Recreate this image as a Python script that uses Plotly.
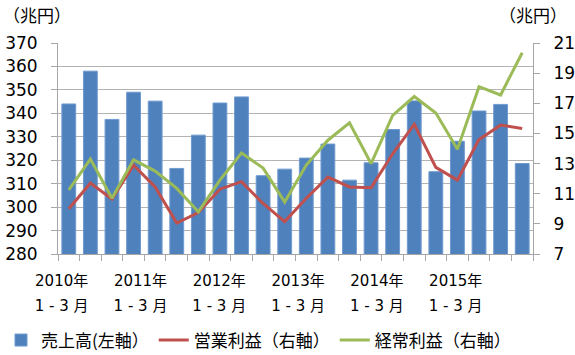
import plotly.graph_objects as go

quarters = ["2010Q1","2010Q2","2010Q3","2010Q4","2011Q1","2011Q2","2011Q3","2011Q4",
            "2012Q1","2012Q2","2012Q3","2012Q4","2013Q1","2013Q2","2013Q3","2013Q4",
            "2014Q1","2014Q2","2014Q3","2014Q4","2015Q1","2015Q2"]
sales = [344.0, 358.0, 337.4, 349.0, 345.2, 316.5, 330.7, 344.4, 347.0, 313.4, 316.2,
         320.9, 326.9, 311.5, 318.9, 333.1, 345.3, 315.1, 328.1, 341.0, 343.8, 318.6]
operating = [10.0, 11.7, 10.65, 12.9, 11.45, 9.05, 9.75, 11.3, 11.8, 10.35, 9.15,
             10.7, 12.1, 11.45, 11.4, 13.65, 15.6, 12.75, 11.9, 14.6, 15.55, 15.33]
ordinary = [11.25, 13.3, 10.7, 13.25, 12.5, 11.35, 9.8, 11.9, 13.7, 12.7, 10.45,
            12.9, 14.55, 15.7, 13.0, 16.2, 17.45, 16.35, 13.95, 18.1, 17.55, 20.35]
year_labels = ["2010年", "2011年", "2012年", "2013年", "2014年", "2015年"]
month_labels = ["1 - 3 月"] * 6
names = ["売上高(左軸）", "営業利益（右軸）", "経常利益（右軸）"]
unit_label = "（兆円）"

FONT = "DejaVu Sans, Noto Sans CJK JP"
xs = list(range(len(quarters)))
GRAY = "#A6A6A6"

fig = go.Figure()
fig.add_trace(go.Bar(x=xs, y=sales, name=names[0], width=0.64,
                     marker=dict(color="#4F81BD", line=dict(color="#6F9AD0", width=1)),
                     yaxis="y"))
fig.add_trace(go.Scatter(x=xs, y=operating, name=names[1], mode="lines",
                         line=dict(color="#C0504D", width=3), yaxis="y2"))
fig.add_trace(go.Scatter(x=xs, y=ordinary, name=names[2], mode="lines",
                         line=dict(color="#9BBB59", width=3), yaxis="y2"))
# invisible trace to activate the second x axis (month row of labels)
fig.add_trace(go.Scatter(x=[xs[0]], y=[sales[0]], mode="markers", opacity=0,
                         showlegend=False, hoverinfo="skip", xaxis="x2", yaxis="y"))

tickpos = [-0.33 + 3.65 * i for i in range(len(year_labels))]
xr = [-0.5, len(quarters) - 0.5]

fig.update_layout(
    width=575, height=355,
    margin=dict(l=58, r=42, t=43, b=101, autoexpand=False),
    paper_bgcolor="white", plot_bgcolor="white",
    font=dict(family=FONT, size=17, color="#000000"),
    showlegend=True,
    legend=dict(orientation="h", x=-0.12, xanchor="left", y=-0.41, yanchor="middle",
                font=dict(size=17, family="Noto Sans CJK JP"), itemwidth=30),
    xaxis=dict(range=xr, tickvals=tickpos, ticktext=year_labels, automargin=False,
               showgrid=False, zeroline=False, showline=True, linecolor=GRAY,
               ticks="", tickfont=dict(size=15), ticklabelstandoff=13,
               minor=dict(tick0=-0.5, dtick=1, ticks="outside", ticklen=6,
                          tickcolor=GRAY, showgrid=False)),
    xaxis2=dict(range=xr, tickvals=tickpos, ticktext=month_labels, overlaying="x",
                side="bottom", anchor="y", showgrid=False, zeroline=False,
                automargin=False, showline=False, ticks="", tickfont=dict(size=15),
                ticklabelstandoff=41),
    yaxis=dict(range=[280, 370], dtick=10, showgrid=True, gridcolor="#B3B3B3",
               gridwidth=1, zeroline=False, showline=True, linecolor=GRAY,
               automargin=False, ticks="outside", ticklen=6, tickcolor=GRAY,
               tickfont=dict(size=17), ticklabelstandoff=10),
    yaxis2=dict(range=[7, 21], tick0=7, dtick=2, overlaying="y", side="right",
                showgrid=False, zeroline=False, showline=True, linecolor=GRAY,
                automargin=False, ticks="outside", ticklen=6, tickcolor=GRAY,
                tickfont=dict(size=17), ticklabelstandoff=10),
    annotations=[
        dict(text=unit_label, xref="paper", yref="paper", x=-0.121, y=1.135,
             xanchor="left", yanchor="middle", showarrow=False,
             font=dict(size=17, family="Noto Sans CJK JP")),
        dict(text=unit_label, xref="paper", yref="paper", x=1.076, y=1.135,
             xanchor="right", yanchor="middle", showarrow=False,
             font=dict(size=17, family="Noto Sans CJK JP")),
    ],
)

fig.write_html("out.html", config={"displayModeBar": False},
               post_script="document.body.style.margin='0px';")
